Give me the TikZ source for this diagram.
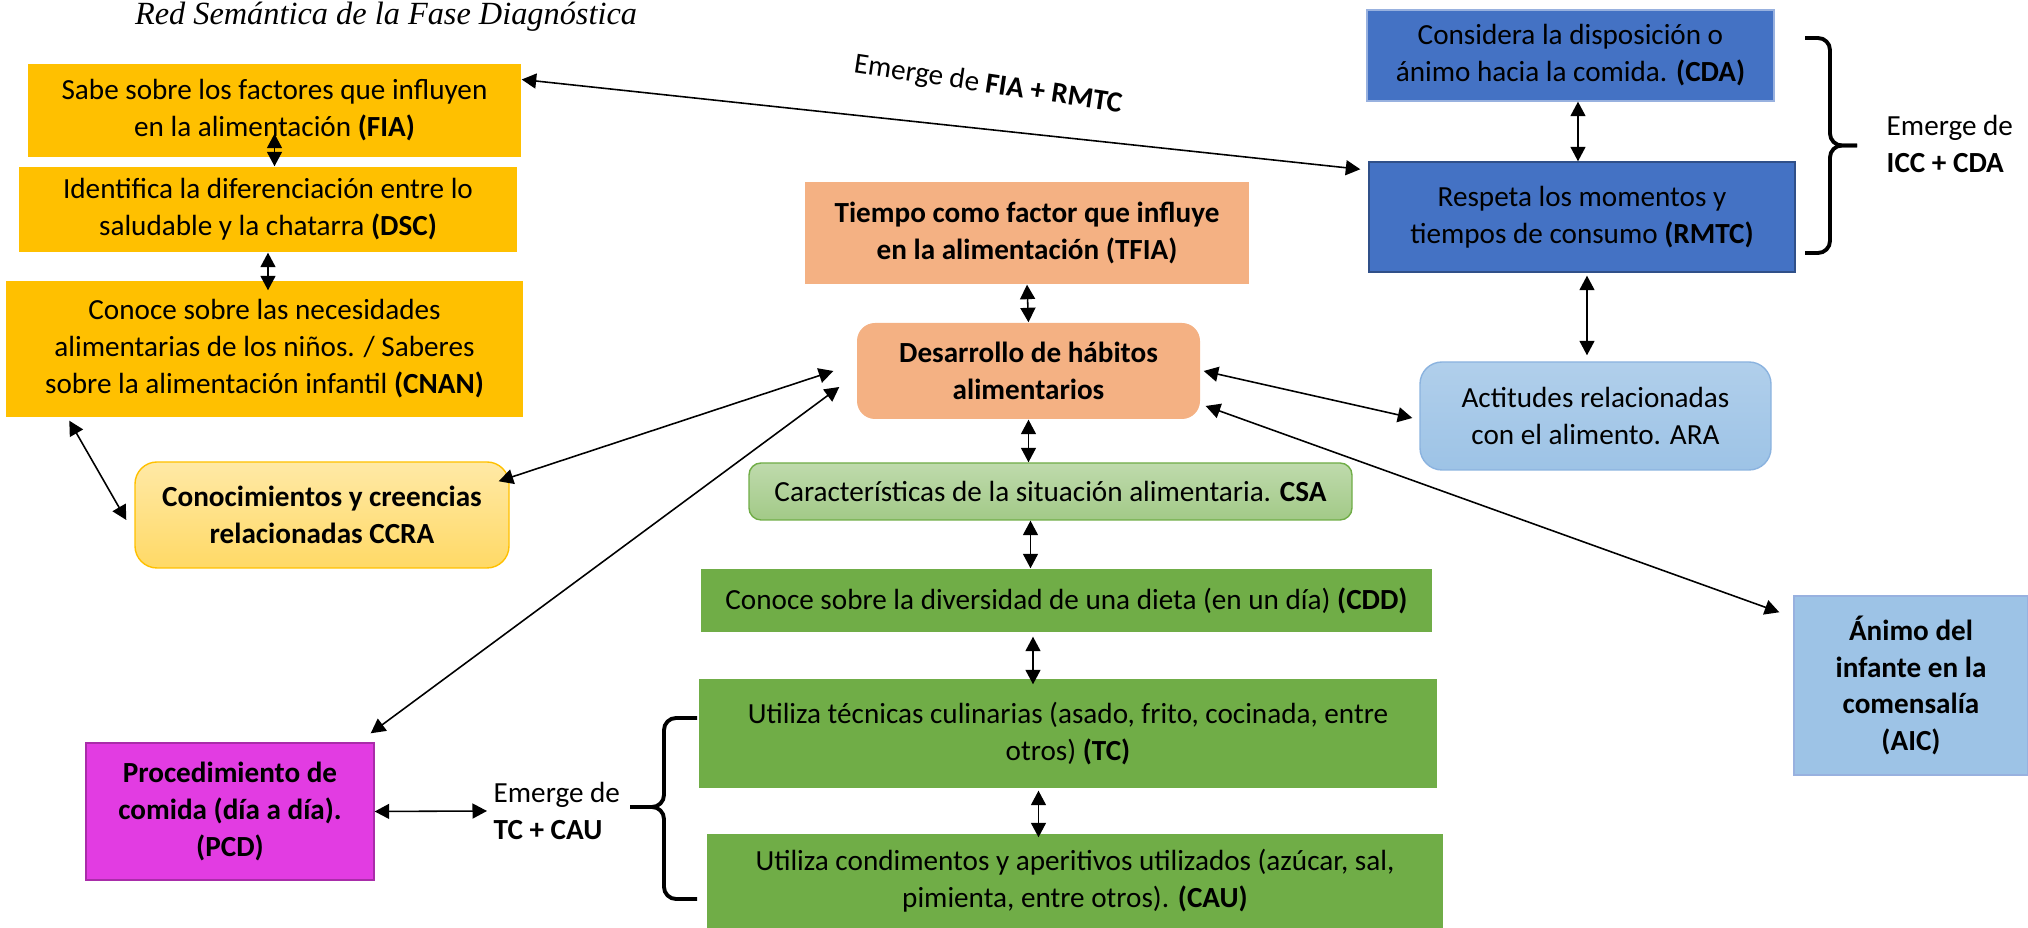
\documentclass[tikz,border=0pt]{standalone}
\usepackage{fontspec}
\setmainfont{Carlito}
\newfontfamily\titlefont{Liberation Serif}
\usepackage{tikz}
\usetikzlibrary{arrows.meta}
\definecolor{diaggold}{RGB}{255,192,0}
\definecolor{diagsalmon}{RGB}{244,177,131}
\definecolor{diaggreen}{RGB}{112,173,71}
\definecolor{diagblue}{RGB}{68,114,196}
\definecolor{diagsky}{RGB}{157,195,230}
\definecolor{diagmagenta}{RGB}{226,60,226}

\begin{document}
\begin{tikzpicture}[x=1cm,y=-1cm,
  txt/.style={font=\fontsize{8.3}{10.5}\selectfont,align=center,inner sep=0pt},
  btxt/.style={font=\fontsize{8.3}{10.5}\selectfont\bfseries,align=center,inner sep=0pt},
  dblarr/.style={{Triangle[length=1.45mm,width=1.5mm]}-{Triangle[length=1.45mm,width=1.5mm]},line width=.45pt},
  brc/.style={line width=1.1pt,rounded corners=.12cm}]
  \useasboundingbox (0,0) rectangle (20.28,9.28);
  \node[font=\titlefont\fontsize{9.2}{11}\selectfont\itshape] (title) at (3.86,.17) {Red Semántica de la Fase Diagnóstica};
  % left column
  \node[txt,fill=diaggold,minimum width=4.93cm,minimum height=.93cm] (fia) at (2.745,1.105) {Sabe sobre los factores que influyen\\en la alimentación \textbf{(FIA)}};
  \node[txt,fill=diaggold,minimum width=4.98cm,minimum height=.85cm] (dsc) at (2.68,2.095) {Identifica la diferenciación entre lo\\saludable y la chatarra \textbf{(DSC)}};
  \node[txt,fill=diaggold,minimum width=5.17cm,minimum height=1.36cm] (cnan) at (2.645,3.49) {Conoce sobre las necesidades\\alimentarias de los niños. / Saberes\\sobre la alimentación infantil \textbf{(CNAN)}};
  \node[btxt,draw=diaggold,top color=diaggold!35,bottom color=diaggold!60,rounded corners=.22cm,minimum width=3.74cm,minimum height=1.06cm] (ccra) at (3.22,5.15) {Conocimientos y creencias\\relacionadas CCRA};
  \node[btxt,fill=diagmagenta,draw=diagmagenta!75!black,minimum width=2.88cm,minimum height=1.37cm] (pcd) at (2.30,8.115) {Procedimiento de\\comida (día a día).\\(PCD)};
  \node[txt,anchor=west,align=left,inner sep=.06cm] (emtc) at (4.87,8.11) {Emerge de\\\textbf{TC + CAU}};
  % middle column
  \node[btxt,fill=diagsalmon,minimum width=4.44cm,minimum height=1.02cm] (tfia) at (10.27,2.33) {Tiempo como factor que influye\\en la alimentación (TFIA)};
  \node[btxt,fill=diagsalmon,rounded corners=.18cm,minimum width=3.43cm,minimum height=.96cm] (dha) at (10.285,3.71) {Desarrollo de hábitos\\alimentarios};
  \node[txt,draw=diaggreen,top color=diaggreen!45,bottom color=diaggreen!65,rounded corners=.12cm,minimum width=6.03cm,minimum height=.57cm] (csa) at (10.505,4.915) {Características de la situación alimentaria. \textbf{CSA}};
  \node[txt,fill=diaggreen,minimum width=7.31cm,minimum height=.63cm] (cdd) at (10.665,6.005) {Conoce sobre la diversidad de una dieta (en un día) \textbf{(CDD)}};
  \node[txt,fill=diaggreen,minimum width=7.38cm,minimum height=1.09cm] (tc) at (10.68,7.335) {Utiliza técnicas culinarias (asado, frito, cocinada, entre\\otros) \textbf{(TC)}};
  \node[txt,fill=diaggreen,minimum width=7.36cm,minimum height=.94cm] (cau) at (10.75,8.81) {Utiliza condimentos y aperitivos utilizados (azúcar, sal,\\pimienta, entre otros). \textbf{(CAU)}};
  % right column
  \node[txt,fill=diagblue,draw=diagblue!55!white,minimum width=4.07cm,minimum height=.91cm] (cda) at (15.705,.555) {Considera la disposición o\\ánimo hacia la comida. \textbf{(CDA)}};
  \node[txt,fill=diagblue,draw=diagblue!70!black,minimum width=4.26cm,minimum height=1.10cm] (rmtc) at (15.82,2.17) {Respeta los momentos y\\tiempos de consumo \textbf{(RMTC)}};
  \node[txt,anchor=west,align=left,inner sep=.06cm] (emicc) at (18.80,1.44) {Emerge de\\\textbf{ICC + CDA}};
  \node[txt,draw=diagsky!80!diagblue,top color=diagsky!80,bottom color=diagsky,rounded corners=.22cm,minimum width=3.51cm,minimum height=1.08cm] (ara) at (15.955,4.16) {Actitudes relacionadas\\con el alimento. ARA};
  \node[btxt,fill=diagsky,draw=diagblue!55!white,minimum width=2.34cm,minimum height=1.79cm] (aic) at (19.11,6.855) {Ánimo del\\infante en la\\comensalía\\(AIC)};
  \node[txt,rotate=-8.5] (emfia) at (9.88,.85) {Emerge de \textbf{FIA + RMTC}};
  % braces
  \draw[brc] (18.05,.38) -- (18.30,.38) -- (18.30,1.455) -- (18.57,1.455);
  \draw[brc] (18.05,2.53) -- (18.30,2.53) -- (18.30,1.455) -- (18.57,1.455);
  \draw[brc] (6.97,7.18) -- (6.64,7.18) -- (6.64,8.07) -- (6.30,8.07);
  \draw[brc] (6.97,8.99) -- (6.64,8.99) -- (6.64,8.07) -- (6.30,8.07);
  % connectors
  \draw[dblarr] ([yshift=.24cm]fia.south) -- (fia.south |- dsc.north);
  \draw[dblarr] (dsc.south) -- ([yshift=-.1cm]dsc.south |- cnan.north);
  \draw[dblarr] ([yshift=.31cm]fia.east) -- ([xshift=-.08cm,yshift=-.08cm]rmtc.north west);
  \draw[dblarr] ([xshift=.075cm]cda.south) -- ([xshift=.075cm]cda.south |- rmtc.north);
  \draw[dblarr] ([xshift=.05cm,yshift=-.03cm]rmtc.south) -- ([xshift=.05cm,yshift=.06cm]rmtc.south |- ara.north);
  \draw[dblarr] ([xshift=.64cm,yshift=-.03cm]cnan.south west) -- ([xshift=-.08cm,yshift=-.05cm]ccra.west);
  \draw[dblarr] ([xshift=-.23cm]dha.west) -- ([xshift=-.11cm,yshift=-.2cm]ccra.north east);
  \draw[dblarr] ([xshift=-.17cm,yshift=-.16cm]dha.west) -- ([xshift=-.04cm,yshift=.09cm]pcd.north east);
  \draw[dblarr] (tfia.south) -- (dha.north);
  \draw[dblarr] (dha.south) -- (dha.south |- csa.north);
  \draw[dblarr] ([xshift=.02cm]dha.south |- csa.south) -- ([xshift=.02cm]dha.south |- cdd.north);
  \draw[dblarr] ([xshift=.045cm,yshift=-.04cm]dha.south |- cdd.south) -- ([xshift=.045cm,yshift=-.06cm]dha.south |- tc.north);
  \draw[dblarr] ([xshift=.1cm,yshift=-.02cm]dha.south |- tc.south) -- ([xshift=.1cm,yshift=-.04cm]dha.south |- cau.north);
  \draw[dblarr] ([xshift=.03cm]dha.east) -- ([xshift=-.07cm,yshift=-.02cm]ara.west);
  \draw[dblarr] ([xshift=.05cm,yshift=-.35cm]dha.east) -- ([xshift=-.14cm,yshift=-.17cm]aic.north west);
  \draw[dblarr] (pcd.east) -- (emtc.west);
\end{tikzpicture}
\end{document}
